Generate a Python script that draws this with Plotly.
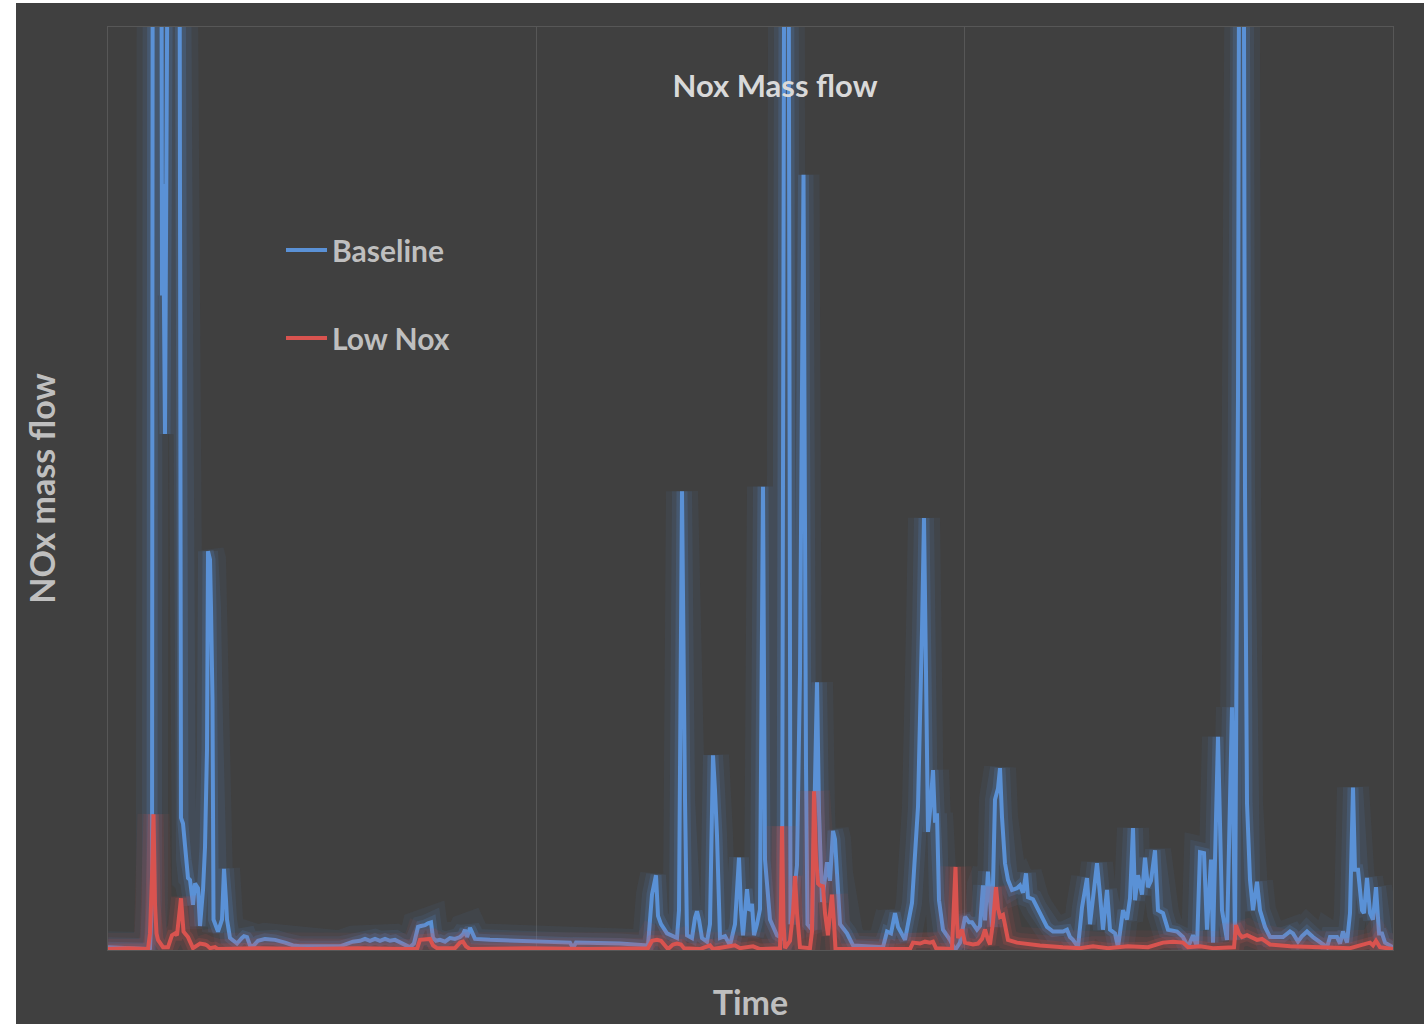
import plotly.graph_objects as go

# ---- data (time index, NOx mass flow in relative units; axis shows 0..100) ----
baseline_t = [0, 17, 39, 42, 44, 45, 53, 54, 55, 57, 59, 60, 61.5, 71, 73, 75, 78, 80, 82,
              85, 87, 90, 92, 95, 97, 99, 100, 102, 103, 104.5, 105.5, 110, 114, 116, 118, 119, 122, 129, 134,
              136, 139, 142, 145, 150, 157, 167, 177, 185, 192, 232, 245, 252, 257, 262, 267, 272, 277, 282, 287,
              292, 302, 306, 310, 313, 317, 320, 323, 325, 328, 332, 337, 342, 347, 352, 355, 357, 359, 362, 364,
              367, 382, 412, 452, 462, 465, 468, 512, 540, 544, 548, 550, 553, 559, 565, 569, 571, 574, 577, 579,
              584, 587, 589, 591, 594, 599, 602, 605, 607, 609, 612, 617, 622, 627, 631, 633, 635, 639, 641, 642,
              644, 646, 649, 652, 655, 657, 662, 669, 674, 677, 680, 682.5, 686, 689, 692, 695.5, 698, 699.5, 704, 707,
              709, 711, 714, 719, 722, 725, 727, 729, 732, 739, 745, 775, 779, 783, 787, 790, 797, 804, 807, 810,
              814, 816, 818, 820, 822, 825, 827, 829, 831, 835, 842, 847, 852, 857, 861, 864, 869, 872, 875, 877,
              880, 884, 887, 890, 892, 894, 897, 900, 904, 909, 912, 915, 918, 920, 925, 929, 934, 939, 945, 955,
              959, 962, 965, 970, 974, 979, 982, 985, 989, 992, 995, 999, 1002, 1007, 1010, 1015, 1019, 1022, 1025, 1027,
              1030, 1034, 1037, 1040, 1043, 1047, 1050, 1055, 1060, 1069, 1075, 1080, 1085, 1089, 1092, 1096, 1099, 1103, 1105, 1110,
              1114, 1119, 1124, 1127, 1130, 1132, 1135, 1137, 1139, 1142, 1145, 1149, 1152, 1157, 1162, 1175, 1182, 1185, 1190, 1194,
              1199, 1205, 1212, 1219, 1222, 1229, 1232, 1235, 1239, 1242, 1245, 1247, 1250, 1254, 1256, 1259, 1262, 1265, 1268, 1271,
              1274, 1277, 1285]
baseline_v = [0.3, 0.2, 0.1, 0.2, 5.4, 160, 150, 70.9, 83.0, 55.9, 80.0, 82.9, 150, 150, 14.3, 13.7, 9.8, 7.8, 7.6,
              4.9, 7.2, 6.7, 2.6, 6.5, 11.1, 21.7, 43.2, 42.3, 37.1, 27, 3.3, 2.0, 3.3, 8.8, 5.4, 3.3, 1.3, 0.7, 1.3,
              1.5, 1.4, 0.5, 0.4, 1.0, 1.2, 1.1, 0.8, 0.5, 0.4, 0.4, 0.9, 1.0, 1.2, 1.0, 1.2, 1.0, 1.2, 1.0, 1.1,
              0.8, 0.3, 0.7, 2.5, 2.6, 2.7, 2.9, 3.0, 1.3, 1.0, 1.1, 0.9, 1.3, 1.2, 1.4, 1.7, 2.2, 1.4, 2.4, 2.0,
              1.2, 1.1, 1.0, 0.9, 0.8, 0.2, 0.8, 0.7, 0.5, 6.0, 8.1, 3.7, 2.8, 1.8, 1.5, 1.3, 4.3, 49.7, 16.3, 1.6,
              1.3, 3.5, 4.2, 3.3, 1.3, 0.9, 2.8, 21.1, 17.3, 12.4, 1.3, 1.5, 0.5, 2.8, 10.0, 4.3, 1.6, 6.6, 4.3, 4.4,
              5.0, 1.6, 2.8, 4.4, 50.2, 9.8, 3.3, 1.6, 1.3, 150, 150, 2.8, 6.0, 9.2, 30, 84.0, 20, 2.8, 2.2, 20,
              29.0, 15, 5.2, 9.5, 7.5, 12.9, 12.0, 8.3, 2.8, 1.8, 0.5, 0.3, 2.0, 1.8, 4.0, 2.5, 1.1, 5.1, 9.8, 15.5,
              34.7, 46.8, 30, 12.8, 15, 19.5, 13.8, 14.8, 5.4, 2.2, 1.1, 0.0, 0.8, 3.6, 3.0, 3.0, 2.2, 2.6, 7.0, 3.2,
              8.5, 2.5, 16.3, 17.5, 19.7, 14.4, 9.4, 7.6, 6.5, 6.7, 7.0, 6.2, 8.3, 5.7, 5.5, 4.6, 3.6, 2.5, 2.0, 2.0,
              2.2, 1.4, 1.1, 0.3, 4.6, 7.8, 2.8, 6.0, 9.4, 6.0, 2.2, 6.5, 2.2, 1.8, 0.3, 4.3, 3.3, 5.6, 13.2, 5.4,
              8.1, 6.0, 10.0, 6.8, 7.5, 10.8, 4.3, 4.0, 2.2, 2.0, 1.4, 0.3, 1.6, 0.3, 10.6, 10.5, 2.2, 9.8, 0.8, 23.1,
              4.3, 1.1, 26.3, 1.1, 60, 150, 150, 50, 15.9, 7.6, 4.3, 7.4, 4.3, 2.5, 1.4, 1.4, 2.0, 1.8, 0.9, 1.5,
              2.0, 1.4, 0.9, 0.3, 1.4, 1.4, 0.7, 2.0, 0.8, 4.0, 17.6, 8.7, 8.7, 4.3, 4.0, 7.8, 4.0, 3.3, 6.8, 1.8,
              1.8, 0.8, 0.3]

lownox_t = [0, 20, 40, 42, 44, 45.5, 47, 48.5, 50, 55, 60, 64, 67, 69, 73, 75.5, 77, 80, 85, 89,
            92, 97, 99, 102, 107, 110, 150, 200, 250, 300, 309, 312, 317, 322, 325, 329, 347, 352, 355, 358,
            362, 420, 480, 532, 540, 544, 549, 553, 557, 560, 565, 569, 573, 576, 592, 602, 605, 627, 632, 645,
            652, 672, 673, 674, 675.5, 677, 682, 685, 687, 689, 692, 702, 704, 706, 708, 710, 712, 715, 717, 720,
            722, 724, 726, 727.5, 742, 802, 805, 812, 817, 822, 825, 828, 844, 846, 847.5, 849, 850, 854, 857, 865,
            870, 874, 877, 880, 882, 885, 888, 890, 892, 895, 898, 900, 909, 922, 932, 955, 972, 985, 1000, 1020,
            1040, 1055, 1065, 1075, 1080, 1092, 1105, 1126, 1128, 1131, 1134, 1139, 1144, 1149, 1154, 1162, 1182, 1212, 1242, 1262,
            1265, 1268, 1272, 1285]
lownox_v = [0.1, 0.2, 0.1, 1.8, 8, 14.7, 5, 1.8, 1.1, 0.3, 0.3, 1.6, 1.8, 1.6, 5.6, 2.0, 1.8, 1.4, 0.2, 0.5,
            0.7, 0.6, 0.5, 0.2, 0.3, 0.1, 0.2, 0.1, 0.2, 0.1, 0.1, 1.1, 1.1, 1.2, 0.5, 0.2, 0.2, 0.8, 0.9, 0.4,
            0.1, 0.2, 0.1, 0.1, 0.2, 1.0, 1.1, 1.0, 0.4, 0.1, 0.6, 0.7, 0.6, 0.2, 0.1, 0.5, 0.1, 0.5, 0.2, 0.4,
            0.1, 0.2, 5, 13.4, 3, 0.2, 1.0, 4, 8.0, 4, 0.3, 0.2, 2, 17.2, 10, 7.2, 7.0, 6.9, 4, 1.6,
            4, 6.0, 3, 0.1, 0.1, 0.1, 0.8, 0.7, 0.9, 0.8, 0.9, 0.2, 0.1, 5, 9.0, 3, 1.3, 2.2, 0.8, 0.6,
            0.7, 1.2, 2.2, 1.1, 0.6, 3, 6.8, 4.5, 3.6, 3.8, 2, 1.1, 0.8, 0.6, 0.5, 0.3, 0.2, 0.4, 0.2, 0.4,
            0.3, 0.8, 0.9, 0.8, 0.3, 0.4, 0.2, 0.3, 2.7, 1.8, 1.4, 1.6, 1.3, 1.1, 1.2, 0.6, 0.4, 0.3, 0.2, 0.8,
            0.5, 1.0, 0.3, 0.1]

series_names = ["Baseline", "Low Nox"]
title_text = "Nox Mass flow"
x_title = "Time"
y_title = "NOx mass flow"

# ---- style ----
BG = "#404040"
BLUE = "#5a91d6"
RED = "#d9534f"
GRID = "#575757"
FONT = "Lato, 'Open Sans', sans-serif"
X_MAX = 1285
Y_MAX = 100

fig = go.Figure()

def add_series(t, v, name, color, glow_rgb):
    # soft glow underneath the line
    for w, a in [(32, 0.07), (20, 0.10), (11, 0.18)]:
        fig.add_trace(go.Scatter(x=t, y=v, mode="lines", legendgroup=name, showlegend=False,
                                 hoverinfo="skip",
                                 line=dict(color=f"rgba({glow_rgb},{a})", width=w)))
    fig.add_trace(go.Scatter(x=t, y=v, mode="lines", name=name, legendgroup=name,
                             line=dict(color=color, width=4)))

add_series(baseline_t, baseline_v, series_names[0], BLUE, "90,145,214")
add_series(lownox_t, lownox_v, series_names[1], RED, "217,83,79")

L, R, T, B = 108, 31, 27, 74
W, H = 1424, 1024
pw, ph = W - L - R, H - T - B

fig.update_layout(
    width=W, height=H,
    margin=dict(l=L, r=R, t=T, b=B, autoexpand=False),
    paper_bgcolor=BG, plot_bgcolor=BG,
    font=dict(family=FONT, color="#bfbfbf"),
    title=dict(text=title_text, xref="paper", yref="paper", x=(775 - L) / pw, y=(950 - 86) / ph,
               xanchor="center", yanchor="middle",
               font=dict(family=FONT, size=31, color="#d9d9d9", weight="bold")),
    legend=dict(x=(281 - L) / pw, y=(950 - 224) / ph, xanchor="left", yanchor="top",
                bgcolor="rgba(0,0,0,0)", tracegroupgap=46, itemwidth=41,
                font=dict(family=FONT, size=30, color="#bfbfbf", weight="bold")),
    showlegend=True,
    shapes=[
        dict(type="rect", xref="paper", yref="paper", x0=-L / pw - 0.01, x1=(16 - L) / pw,
             y0=-B / ph - 0.01, y1=1 + T / ph + 0.01, fillcolor="#ffffff", line=dict(width=0), layer="above"),
        dict(type="rect", xref="paper", yref="paper", x0=-L / pw - 0.01, x1=1 + R / pw + 0.01,
             y0=1 + (T - 3) / ph, y1=1 + T / ph + 0.01, fillcolor="#ffffff", line=dict(width=0), layer="above"),
    ],
)

fig.update_xaxes(range=[0, X_MAX], tickvals=[0, X_MAX / 3, 2 * X_MAX / 3, X_MAX], showticklabels=False,
                 ticks="", showgrid=True, gridcolor=GRID, gridwidth=1, zeroline=False,
                 showline=True, linecolor=GRID, linewidth=1, mirror=True, automargin=False,
                 title=dict(text=x_title, standoff=41,
                            font=dict(family=FONT, size=34, color="#bfbfbf", weight="bold")))
fig.update_yaxes(range=[0, Y_MAX], showticklabels=False, ticks="", showgrid=False, zeroline=False,
                 showline=True, linecolor=GRID, linewidth=1, mirror=True, automargin=False,
                 title=dict(text=y_title, standoff=41,
                            font=dict(family=FONT, size=34, color="#bfbfbf", weight="bold")))

fig.write_html("out.html", config={"displayModeBar": False},
               post_script="document.body.style.margin='0';document.body.style.overflow='hidden';")
